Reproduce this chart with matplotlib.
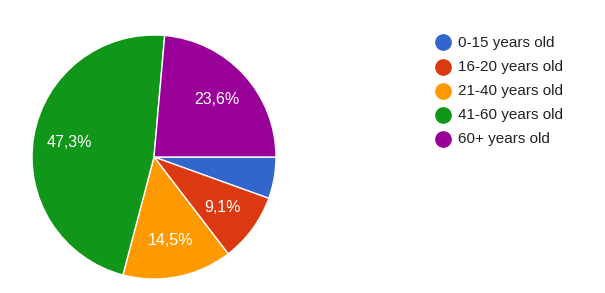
import matplotlib
matplotlib.use("Agg")
import matplotlib.pyplot as plt
import numpy as np

categories = ["0-15 years old", "16-20 years old", "21-40 years old", "41-60 years old", "60+ years old"]
values = [5.5, 9.1, 14.5, 47.3, 23.6]
pct_labels = ["", "9,1%", "14,5%", "47,3%", "23,6%"]
colors = ["#3366cc", "#dc3912", "#ff9900", "#109618", "#990099"]

W, H = 605, 293
fig = plt.figure(figsize=(W / 100, H / 100), dpi=100)
fig.patch.set_facecolor("white")
plt.rcParams['font.family'] = ['Liberation Sans', 'DejaVu Sans']

cx, cy, r = 154, 157, 122
ax = fig.add_axes([(cx - r) / W, (H - cy - r) / H, 2 * r / W, 2 * r / H])
wedges, _ = ax.pie(values, colors=colors, startangle=0, counterclock=False,
                   wedgeprops=dict(edgecolor="white", linewidth=1))
ax.set_aspect("equal")
ax.set_xlim(-1, 1)
ax.set_ylim(-1, 1)
ax.axis("off")

ang = 0.0
for v, lab in zip(values, pct_labels):
    mid = ang - v / 100 * 360 / 2
    ang -= v / 100 * 360
    if lab:
        t = np.deg2rad(mid)
        ax.text(0.7 * np.cos(t), 0.7 * np.sin(t), lab, ha="center", va="center",
                color="white", fontsize=11.5)

lax = fig.add_axes([0, 0, 1, 1])
lax.set_xlim(0, W)
lax.set_ylim(H, 0)
lax.axis("off")
ys = [42, 66.5, 91, 115, 139]
for y, c, lab in zip(ys, colors, categories):
    lax.plot([443], [y], marker="o", markersize=11, color=c, linestyle="none")
    lax.text(457.5, y + 0.5, lab, ha="left", va="center", fontsize=11, color="#222222")

fig.savefig("out.png", dpi=100, facecolor="white")
